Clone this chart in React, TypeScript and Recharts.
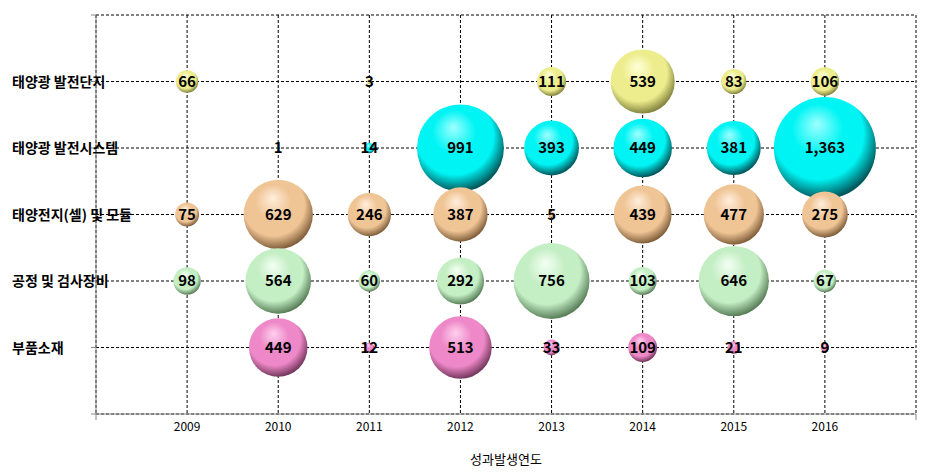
import { ScatterChart, Scatter, XAxis, YAxis, ZAxis, CartesianGrid, LabelList } from "recharts";

const years = [2009, 2010, 2011, 2012, 2013, 2014, 2015, 2016];
const categories = ["부품소재", "공정 및 검사장비", "태양전지(셀) 및 모듈", "태양광 발전시스템", "태양광 발전단지"];

const farmValues = [66, null, 3, null, 111, 539, 83, 106];
const systemValues = [null, 1, 14, 991, 393, 449, 381, 1363];
const cellValues = [75, 629, 246, 387, 5, 439, 477, 275];
const processValues = [98, 564, 60, 292, 756, 103, 646, 67];
const partsValues = [null, 449, 12, 513, 33, 109, 21, 9];

const FONT = "'Noto Sans CJK KR', 'Noto Sans', sans-serif";
const MAX_R = 51;

const series = [
  { id: "farm", row: 5, values: farmValues, light: "#FFFFD8", base: "#EDED8E", dark: "#858540" },
  { id: "system", row: 4, values: systemValues, light: "#9FFFFF", base: "#00F4F4", dark: "#00585C" },
  { id: "cell", row: 3, values: cellValues, light: "#FFEEDC", base: "#F0C596", dark: "#82603C" },
  { id: "process", row: 2, values: processValues, light: "#F4FFF4", base: "#C4EEC4", dark: "#5A805A" },
  { id: "parts", row: 1, values: partsValues, light: "#FFD0EE", base: "#EE88C8", dark: "#76385E" },
];

const toPoints = (row: number, values: (number | null)[]) =>
  years
    .map((yr, i) => ({ x: yr, y: row, z: values[i] }))
    .filter(d => d.z != null);

const bubble = (gradId: string) => (props: any) => {
  const r = props.width ? props.width / 2 : Math.sqrt(Math.max(props.size || 0, 0) / Math.PI);
  return <circle cx={props.cx} cy={props.cy} r={r} fill={`url(#${gradId})`} />;
};

const XTick = ({ x, y, payload }: any) => {
  const v = payload.value;
  if (v === 2008 || v === 2017) {
    return <line x1={x} y1={y - 8} x2={x} y2={y - 2} stroke="#868686" />;
  }
  return (
    <text x={x} y={y + 9} textAnchor="middle" fontSize={12} fill="#000" fontFamily={FONT}>
      {v}
    </text>
  );
};

const YTick = ({ y, payload }: any) => {
  const v = payload.value;
  if (v < 1 || v > 5) return null;
  return (
    <text x={12} y={y} dy={5} textAnchor="start" fontSize={14} fontWeight="bold" fill="#000" fontFamily={FONT}>
      {categories[v - 1]}
    </text>
  );
};

export default function App() {
  return (
    <div style={{ position: "absolute", left: 0, top: 0, width: 940, height: 474, background: "#fff" }}>
      <svg width={0} height={0} style={{ position: "absolute" }}>
        <defs>
          {series.map(s => (
            <radialGradient key={s.id} id={`grad-${s.id}`} cx="44%" cy="40%" r="60%" fx="42%" fy="26%">
              <stop offset="0%" stopColor={s.light} />
              <stop offset="42%" stopColor={s.base} />
              <stop offset="74%" stopColor={s.base} />
              <stop offset="100%" stopColor={s.dark} />
            </radialGradient>
          ))}
        </defs>
      </svg>
      <ScatterChart width={940} height={474} margin={{ top: 15, right: 24, bottom: 0, left: 0 }}>
        <CartesianGrid stroke="#000" strokeDasharray="3 2" />
        <XAxis
          type="number"
          dataKey="x"
          domain={[2008, 2017]}
          ticks={[2008, 2009, 2010, 2011, 2012, 2013, 2014, 2015, 2016, 2017]}
          interval={0}
          height={60}
          axisLine={{ stroke: "#868686" }}
          tickLine={false}
          tick={<XTick />}
          label={{ value: "성과발생연도", position: "insideBottom", offset: 10, fontSize: 13, fill: "#000", fontFamily: FONT }}
        />
        <YAxis
          type="number"
          dataKey="y"
          domain={[0, 6]}
          ticks={[0, 1, 2, 3, 4, 5, 6]}
          interval={0}
          width={96}
          axisLine={{ stroke: "#868686" }}
          tickLine={{ stroke: "#868686" }}
          tickSize={5}
          tick={<YTick />}
        />
        <ZAxis type="number" dataKey="z" domain={[0, 1363]} range={[0, Math.PI * MAX_R * MAX_R]} />
        {series.map(s => (
          <Scatter key={s.id} data={toPoints(s.row, s.values)} shape={bubble(`grad-${s.id}`)} isAnimationActive={false}>
            <LabelList
              dataKey="z"
              position="center"
              formatter={(v: any) => Number(v).toLocaleString("en-US")}
              fontSize={15}
              fontWeight="bold"
              fill="#000"
              fontFamily={FONT}
            />
          </Scatter>
        ))}
      </ScatterChart>
    </div>
  );
}
